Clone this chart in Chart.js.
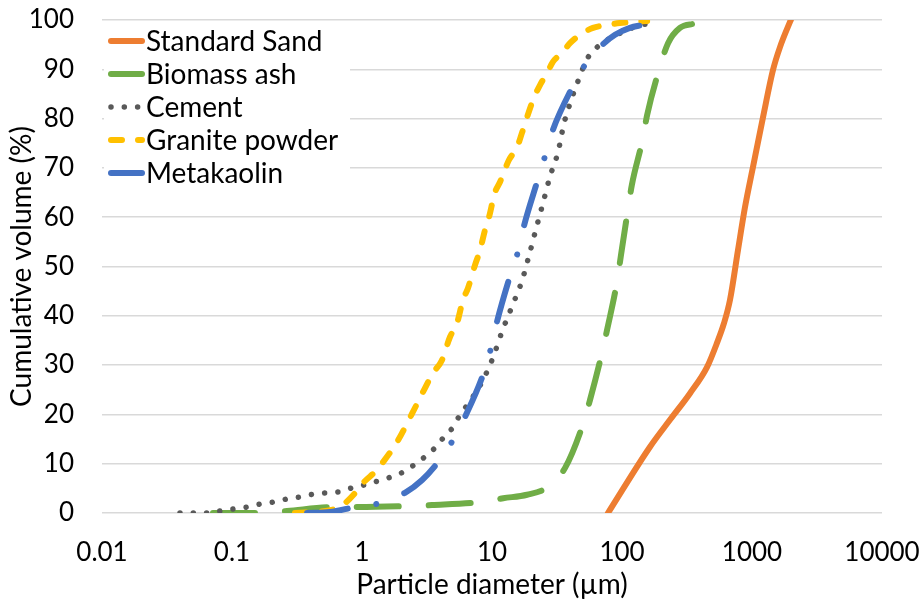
<!DOCTYPE html>
<html>
<head>
<meta charset="utf-8">
<script src="https://cdn.jsdelivr.net/npm/chart.js@4.4.1/dist/chart.umd.min.js"></script>
<style>
  html, body { margin: 0; padding: 0; background: #fff; }
</style>
</head>
<body>
<canvas id="grafica" width="921" height="602"></canvas>
<script>
// Curvas granulométricas: diámetro (µm) vs volumen acumulado (%)
const sandX = [78, 164, 234, 334, 451, 538, 609, 677, 780, 883, 1018, 1216, 1452, 1642, 1960, 1990];
const sandY = [0, 13.4, 18.9, 24.3, 29.6, 34.5, 38.5, 43.2, 53.3, 62, 70.2, 80.3, 89.9, 94.5, 99.6, 100];

const ashX = [0.0714, 0.173, 0.265, 0.619, 0.931, 2.22, 3.45, 8.09, 12.2, 18.6, 27.0, 36.4, 50.1, 56.7, 70.2, 76.7, 91.5, 98.2, 111, 119, 145, 156, 196, 226, 279, 352, 451];
const ashY = [0, 0, 0.4, 1.2, 1.2, 1.4, 1.6, 2.2, 3.0, 3.7, 5.3, 9.1, 18.0, 22.9, 32.5, 37.1, 46.9, 52.3, 61.5, 66.5, 76.1, 80.7, 90.5, 95.3, 98.4, 99.2, 99.5];

const cementX = [0.0398, 0.0501, 0.0643, 0.0809, 0.102, 0.130, 0.164, 0.206, 0.260, 0.327, 0.420, 0.528, 0.665, 0.838, 1.05, 1.33, 1.67, 2.07, 2.56, 3.05, 3.64, 4.27, 5.01, 5.67, 6.53, 8.38, 10.2, 11.9, 14.3, 17.0, 19.3, 21.8, 24.7, 27.9, 32.2, 35.8, 41.2, 48.4, 52.8, 60.9, 96.5, 137, 176];
const cementY = [0, 0, 0, 0.4, 0.8, 1.2, 1.8, 2.2, 2.8, 3.2, 3.8, 4.1, 4.3, 5.1, 5.7, 6.5, 7.3, 8.3, 9.9, 11.4, 13.2, 15.4, 17.4, 19.9, 22.1, 26.6, 31.6, 36.7, 42.0, 47.1, 52.3, 57.6, 62.9, 68.2, 73.2, 79.0, 84.2, 89.2, 91.7, 93.9, 97.3, 98.9, 99.4];

const graniteX = [0.305, 0.619, 0.740, 0.916, 1.02, 1.30, 1.43, 1.86, 2.42, 2.94, 3.52, 4.12, 4.75, 5.38, 5.98, 6.53, 7.40, 8.09, 8.83, 9.48, 10.5, 11.5, 13.5, 15.6, 17.0, 20.7, 23.4, 26.5, 29.4, 34.5, 39.8, 47.5, 59.8, 76.7, 96.5, 156];
const graniteY = [0, 0.8, 2.0, 4.5, 6.1, 8.7, 10.1, 14.4, 20.1, 24.5, 28.4, 31.0, 35.7, 38.5, 43.2, 45.6, 50.3, 53.3, 57.4, 60.0, 64.9, 67.1, 71.6, 74.2, 77.1, 83.8, 86.8, 89.2, 91.5, 93.3, 95.3, 97.0, 98.4, 99.0, 99.4, 99.8];

const metaX = [0.378, 0.568, 0.883, 1.37, 2.14, 2.90, 3.84, 5.01, 6.20, 8.68, 9.83, 10.9, 13.7, 15.8, 17.6, 22.2, 25.6, 29.4, 41.2, 51.9, 70.2, 88.4, 115, 145];
const metaY = [0, 0.2, 1.2, 2.0, 4.1, 6.7, 10.3, 14.8, 19.5, 28.6, 33.5, 38.7, 47.9, 52.9, 58.2, 67.1, 72.4, 77.7, 86.2, 90.9, 94.9, 97.0, 98.4, 99.0];

const seriesNames = ['Standard Sand', 'Biomass ash', 'Cement', 'Granite powder', 'Metakaolin'];
const xTickValues = [0.01, 0.1, 1, 10, 100, 1000, 10000];
const xTickLabels = ['0.01', '0.1', '1', '10', '100', '1000', '10000'];

const fuente = { family: 'Lato', size: 26 };
const fuenteTitulo = { family: 'Lato', size: 28 };

function puntos(xs, ys) {
  return xs.map((x, i) => ({ x: x, y: ys[i] }));
}

// Leyenda dentro del área del gráfico, arriba a la izquierda
const leyendaInterna = {
  id: 'leyendaInterna',
  afterDraw(chart) {
    const ctx = chart.ctx;
    ctx.save();
    ctx.fillStyle = '#fff';
    ctx.fillRect(104, 25, 246, 163);
    chart.data.datasets.forEach((ds, i) => {
      const y = 41 + i * 33;
      ctx.beginPath();
      ctx.lineWidth = ds.borderWidth;
      ctx.strokeStyle = ds.borderColor;
      ctx.lineCap = 'round';
      ctx.setLineDash(ds.borderDash || []);
      ctx.moveTo(111, y);
      ctx.lineTo(142, y);
      ctx.stroke();
      ctx.setLineDash([]);
      ctx.fillStyle = '#000';
      ctx.font = '28px Lato';
      ctx.textBaseline = 'middle';
      ctx.fillText(ds.label, 146, y + 1);
    });
    ctx.restore();
  }
};

new Chart(document.getElementById('grafica'), {
  type: 'line',
  data: {
    datasets: [
      { label: seriesNames[0], data: puntos(sandX, sandY), borderColor: '#ED7D31', borderWidth: 6, order: 4 },
      { label: seriesNames[1], data: puntos(ashX, ashY), borderColor: '#70AD47', borderWidth: 6, borderDash: [42, 30], order: 3 },
      { label: seriesNames[2], data: puntos(cementX, cementY), borderColor: '#595959', borderWidth: 5.5, borderDash: [0.01, 13.3], order: 2 },
      { label: seriesNames[3], data: puntos(graniteX, graniteY), borderColor: '#FFC000', borderWidth: 6, borderDash: [11, 16], order: 1 },
      { label: seriesNames[4], data: puntos(metaX, metaY), borderColor: '#4472C4', borderWidth: 6, borderDash: [41, 29, 0.01, 30], order: 0 }
    ]
  },
  options: {
    responsive: false,
    animation: false,
    layout: { padding: { top: 20, right: 39, bottom: 0, left: 0 } },
    datasets: {
      line: {
        pointRadius: 0,
        cubicInterpolationMode: 'monotone',
        borderCapStyle: 'round',
        borderJoinStyle: 'round',
        fill: false
      }
    },
    plugins: {
      legend: { display: false },
      tooltip: { enabled: false }
    },
    scales: {
      x: {
        type: 'logarithmic',
        min: 0.01,
        max: 10000,
        afterBuildTicks: (scale) => { scale.ticks = xTickValues.map(v => ({ value: v })); },
        afterFit: (scale) => {
          scale.height = 89;
          scale.paddingLeft = 0;
          scale.paddingRight = 0;
        },
        grid: { display: false, drawTicks: false },
        border: { display: false },
        ticks: {
          autoSkip: false,
          maxRotation: 0,
          padding: 24,
          color: '#000',
          font: fuente,
          callback: (v, i) => xTickLabels[i]
        },
        title: {
          display: true,
          text: 'Particle diameter (µm)',
          color: '#000',
          font: fuenteTitulo,
          padding: { top: 0, bottom: 0 }
        }
      },
      y: {
        min: 0,
        max: 100,
        afterFit: (scale) => {
          scale.width = 102;
          scale.paddingTop = 0;
          scale.paddingBottom = 0;
        },
        grid: { color: '#d9d9d9', lineWidth: 1.5, drawTicks: false },
        border: { display: false },
        ticks: { stepSize: 10, padding: 28, color: '#000', font: fuente },
        title: {
          display: true,
          text: 'Cumulative volume (%)',
          color: '#000',
          font: fuenteTitulo,
          padding: { top: 5, bottom: 0 }
        }
      }
    }
  },
  plugins: [leyendaInterna]
});
</script>
</body>
</html>
